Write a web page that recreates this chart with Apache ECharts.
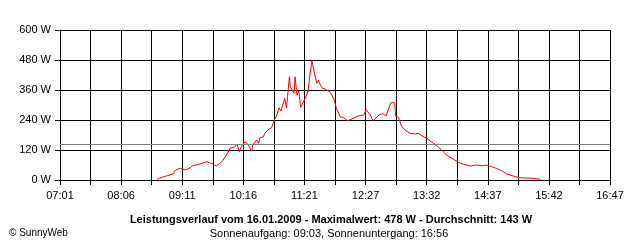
<!DOCTYPE html>
<html>
<head>
<meta charset="utf-8">
<script src="https://cdn.jsdelivr.net/npm/echarts@6/dist/echarts.min.js"></script>
<style>
  html, body { margin: 0; padding: 0; background: #fff; }
  #chart { width: 640px; height: 240px; }
</style>
</head>
<body>
<div id="chart"></div>
<script>
// tick labels on the time axis (every 65 min from 07:01)
const xLabels = ['07:01', '08:06', '09:11', '10:16', '11:21', '12:27', '13:32', '14:37', '15:42', '16:47']
const startMinute = 421 // 07:01

// measured points: minutes after midnight / power in W
const minutes = [
  524, 531, 538, 541, 544, 549, 554, 559, 562, 570, 577, 580, 584, 587, 591, 594, 598, 602, 607, 609,
  612, 614, 618, 621, 625, 626, 630, 632, 634, 637, 639, 642, 646, 649, 651, 654, 656, 658, 660, 662,
  663, 665, 666, 668, 670, 671, 673, 675, 677, 679, 682, 685, 687, 689, 691, 694, 696, 697, 700, 703,
  708, 712, 715, 719, 722, 727, 733, 738, 744, 747, 751, 754, 758, 761, 765, 768, 771, 773, 777, 778,
  781, 784, 788, 793, 799, 802, 806, 811, 816, 822, 827, 832, 839, 845, 850, 857, 864, 871, 875, 880,
  885, 891, 896, 903, 910, 924, 932
]
const watts = [
  3, 13, 20, 24, 40, 47, 40, 48, 57, 64, 73, 69, 64, 56, 67, 77, 100, 127, 133, 144,
  113, 136, 153, 140, 116, 140, 160, 147, 171, 171, 187, 200, 209, 240, 253, 289, 276, 280, 327, 287,
  333, 413, 373, 380, 347, 413, 340, 357, 291, 291, 327, 357, 427, 476, 440, 387, 400, 387, 367, 364,
  353, 327, 287, 253, 251, 237, 247, 256, 260, 280, 260, 237, 251, 263, 264, 257, 291, 309, 309, 256,
  251, 216, 200, 187, 184, 187, 177, 167, 153, 136, 120, 100, 84, 71, 63, 56, 60, 57, 60, 53,
  47, 37, 24, 16, 9, 7, 3
]
const average = 143

const seriesData = minutes.map((m, i) => [m - startMinute, watts[i]])

const chart = echarts.init(document.getElementById('chart'), null, { renderer: 'canvas' })

const font = 'Liberation Sans, Arial, sans-serif'

chart.setOption({
  animation: false,
  backgroundColor: '#fff',
  textStyle: { fontFamily: font },
  title: [
    {
      text: 'Leistungsverlauf vom 16.01.2009 - Maximalwert: 478 W - Durchschnitt: 143 W',
      left: 326,
      top: 209,
      textAlign: 'center',
      textStyle: { fontSize: 11, fontWeight: 'bold', color: '#000', fontFamily: font }
    },
    {
      text: 'Sonnenaufgang: 09:03, Sonnenuntergang: 16:56',
      left: 324,
      top: 223,
      textAlign: 'center',
      textStyle: { fontSize: 11, fontWeight: 'normal', color: '#000', fontFamily: font }
    },
    {
      text: '© SunnyWeb',
      left: 4,
      top: 223,
      textStyle: { fontSize: 10, fontWeight: 'normal', color: '#000', fontFamily: font }
    }
  ],
  grid: { left: 60, right: 30, top: 30, bottom: 60 },
  xAxis: {
    type: 'value',
    min: 0,
    max: 585,
    interval: 32.5,
    axisLine: { show: true, lineStyle: { color: '#000', width: 1 } },
    axisTick: { show: true, length: 5, lineStyle: { color: '#000', width: 1 } },
    splitLine: { show: true, lineStyle: { color: '#000', width: 1 } },
    axisLabel: {
      color: '#000',
      fontSize: 11,
      margin: 10,
      showMinLabel: true,
      showMaxLabel: true,
      hideOverlap: false,
      formatter: function (v) {
        const i = Math.round(v / 65)
        return Math.abs(v - i * 65) < 0.01 ? xLabels[i] : ''
      }
    }
  },
  yAxis: {
    type: 'value',
    min: 0,
    max: 600,
    interval: 120,
    axisLine: { show: true, lineStyle: { color: '#000', width: 1 } },
    axisTick: { show: true, length: 5, lineStyle: { color: '#000', width: 1 } },
    splitLine: { show: true, lineStyle: { color: '#000', width: 1 } },
    axisLabel: { color: '#000', fontSize: 11, margin: 9, formatter: '{value} W' }
  },
  series: [
    {
      type: 'line',
      data: seriesData,
      showSymbol: false,
      symbol: 'none',
      lineStyle: { color: '#ff0000', width: 1 },
      z: 3,
      markLine: {
        silent: true,
        symbol: 'none',
        label: { show: false },
        lineStyle: { color: '#808080', width: 1, type: 'solid' },
        data: [{ yAxis: average }]
      }
    }
  ]
})
</script>
</body>
</html>
